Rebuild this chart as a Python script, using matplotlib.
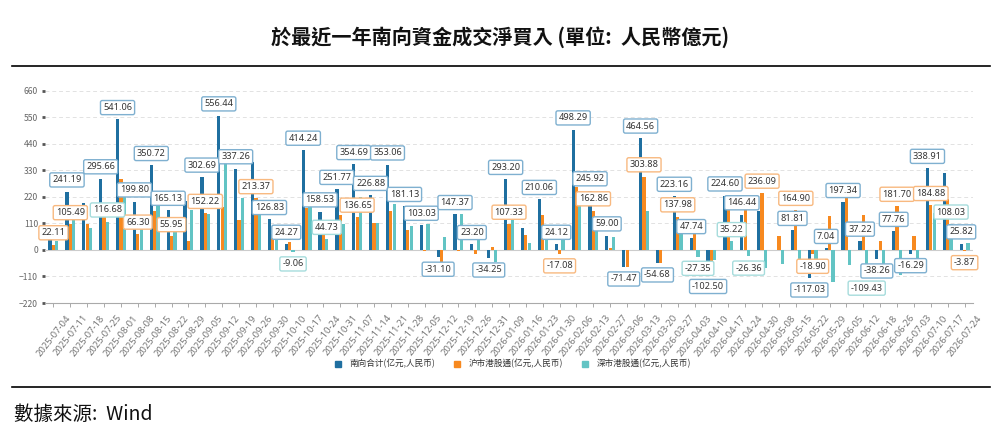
import matplotlib as mpl
import matplotlib.pyplot as plt
import matplotlib.transforms as mtrans
import numpy as np
from matplotlib.lines import Line2D

mpl.rcParams['font.family'] = ['Noto Sans CJK TC', 'DejaVu Sans']

# weekly dates
dates = ["2025-07-04", "2025-07-11", "2025-07-18", "2025-07-25", "2025-08-01", "2025-08-08",
         "2025-08-15", "2025-08-22", "2025-08-29", "2025-09-05", "2025-09-12", "2025-09-19",
         "2025-09-26", "2025-09-30", "2025-10-10", "2025-10-17", "2025-10-24", "2025-10-31",
         "2025-11-07", "2025-11-14", "2025-11-21", "2025-11-28", "2025-12-05", "2025-12-12",
         "2025-12-19", "2025-12-26", "2025-12-31", "2026-01-09", "2026-01-16", "2026-01-23",
         "2026-01-30", "2026-02-06", "2026-02-13", "2026-02-27", "2026-03-06", "2026-03-13",
         "2026-03-20", "2026-03-27", "2026-04-03", "2026-04-10", "2026-04-17", "2026-04-24",
         "2026-04-30", "2026-05-08", "2026-05-15", "2026-05-22", "2026-05-29", "2026-06-05",
         "2026-06-12", "2026-06-18", "2026-06-26", "2026-07-03", "2026-07-10", "2026-07-17",
         "2026-07-24"]

# southbound total / shanghai connect / shenzhen connect (RMB 100m)
total = [58.50, 241.19, 196.00, 295.66, 541.06, 199.80, 350.72, 165.13, 204.00, 302.69,
         556.44, 337.26, 363.00, 126.83, 24.27, 414.24, 158.53, 251.77, 354.69, 226.88,
         353.06, 181.13, 103.03, -31.10, 147.37, 23.20, -34.25, 293.20, 90.00, 210.06,
         24.12, 498.29, 245.92, 59.00, -71.47, 464.56, -54.68, 223.16, 47.74, -102.50,
         224.60, 146.44, 163.00, 0.50, 81.81, -117.03, 7.04, 197.34, 37.22, -38.26,
         77.76, -16.29, 338.91, 318.00, 25.82]
sh = [22.11, 105.49, 106.00, 178.98, 293.00, 66.30, 160.00, 55.95, 39.00, 152.22,
      180.00, 122.00, 213.37, 66.00, 33.33, 173.00, 113.80, 145.00, 136.65, 113.50,
      162.00, 83.00, -5.00, -48.00, -3.00, -17.00, 14.00, 107.33, 62.00, 146.00,
      -17.08, 260.00, 162.86, 7.00, -70.90, 303.88, -54.40, 137.98, 75.09, -61.50,
      189.38, 172.80, 236.09, 58.00, 164.90, -18.90, 141.00, 259.00, 146.65, 36.00,
      181.70, 58.00, 184.88, 210.00, -3.87]
sz = [36.40, 135.70, 90.00, 116.68, 248.00, 133.50, 190.70, 109.18, 165.00, 150.47,
      376.44, 215.26, 149.60, 60.80, -9.06, 241.24, 44.73, 106.77, 218.04, 113.38,
      191.06, 98.13, 108.03, 52.00, 150.37, 40.20, -48.25, 185.87, 28.00, 64.06,
      41.20, 238.29, 83.06, 52.00, -0.57, 160.68, -0.28, 85.18, -27.35, -41.00,
      35.22, -26.36, -73.09, -57.70, -83.09, -98.13, -133.96, -61.66, -109.43, -74.26,
      -103.94, -74.29, 154.03, 108.03, 29.69]

# which bars carry a value label
total_lab = [1, 3, 4, 5, 6, 7, 9, 10, 11, 13, 14, 15, 16, 17, 18, 19, 20, 21, 22, 23, 24,
             25, 26, 27, 29, 30, 31, 32, 33, 34, 35, 36, 37, 38, 39, 40, 41, 44, 45, 46,
             47, 48, 49, 50, 51, 52, 54]
sh_lab = [0, 1, 5, 7, 9, 12, 18, 27, 30, 32, 35, 37, 42, 44, 45, 50, 52, 54]
sz_lab = [3, 14, 16, 38, 40, 41, 48, 53]

series_names = ["南向合计(亿元,人民币)", "沪市港股通(亿元,人民币)", "深市港股通(亿元,人民币)"]
colors = ["#1f6fa0", "#f7891f", "#62c4c4"]
edges = ["#7fb0d0", "#f8b980", "#a6dcdc"]

fig = plt.figure(figsize=(10.01, 4.44), dpi=100)
ax = fig.add_axes([45 / 1001, 1 - 303 / 444, 928 / 1001, 212.3 / 444])

x = np.arange(len(dates))
offs = [-0.2, 0.0, 0.2]
data = [total, sh, sz]
for k in range(3):
    ax.bar(x + offs[k], data[k], width=0.19, color=colors[k], zorder=2)

ax.axhline(0, color="#cccccc", linewidth=0.8, zorder=1)

# value labels
for k, labs in enumerate([total_lab, sh_lab, sz_lab]):
    for i in labs:
        v = data[k][i]
        ax.annotate(f"{v:.2f}", xy=(x[i] + offs[k], v), xytext=(0, 8.5 if v >= 0 else -8.5),
                    textcoords="offset points", ha="center", va="center",
                    fontsize=6.6, color="#333333", family="Noto Sans", zorder=5,
                    bbox=dict(boxstyle="round,pad=0.28,rounding_size=0.2", fc="white",
                              ec=edges[k], lw=1.0))

ax.set_xlim(-0.5, len(dates) - 0.5)
ax.set_ylim(-220, 660)
ax.set_yticks(np.arange(-220, 661, 110))
ax.yaxis.grid(True, color="#e2e2e2", linestyle=(0, (4, 3)), linewidth=0.7)
ax.set_axisbelow(True)
for s in ["left", "right", "top"]:
    ax.spines[s].set_visible(False)
ax.spines["bottom"].set_color("#aaaaaa")
ax.spines["bottom"].set_linewidth(0.8)

ax.tick_params(axis="y", length=2, width=2, color="#555555", labelsize=6.2, labelcolor="#666666", pad=3)
ax.tick_params(axis="x", length=3, width=0.7, color="#aaaaaa", labelsize=6.8, labelcolor="#777777", pad=3)
ax.set_xticks(x)
ax.set_xticklabels(dates, rotation=52, ha="right", rotation_mode="anchor", family="Noto Sans")
shift = mtrans.ScaledTranslation(12 / 100, -2 / 100, fig.dpi_scale_trans)
for lab in ax.get_xticklabels():
    lab.set_transform(lab.get_transform() + shift)

# legend
handles = [Line2D([], [], marker="s", linestyle="none", markersize=4, color=c) for c in colors]
fig.legend(handles, series_names, loc="center", bbox_to_anchor=(510 / 1001, 1 - 364 / 444),
           ncol=3, frameon=False, fontsize=6.2, handletextpad=0.3, columnspacing=1.6,
           labelcolor="#333333")

# title, rules and source
fig.text(0.5, 1 - 37 / 444, "於最近一年南向資金成交淨買入 (單位:  人民幣億元)", ha="center", va="center",
         fontsize=14.5, fontweight="bold", color="#111111")
fig.add_artist(Line2D([12 / 1001, 990 / 1001], [1 - 66 / 444] * 2, color="black", linewidth=1.2))
fig.add_artist(Line2D([12 / 1001, 990 / 1001], [1 - 387 / 444] * 2, color="black", linewidth=1.2))
fig.text(14 / 1001, 1 - 414 / 444, "數據來源:  Wind", ha="left", va="center", fontsize=14,
         style="italic", color="#111111")

fig.savefig("out.png", dpi=100)
plt.close("all")
